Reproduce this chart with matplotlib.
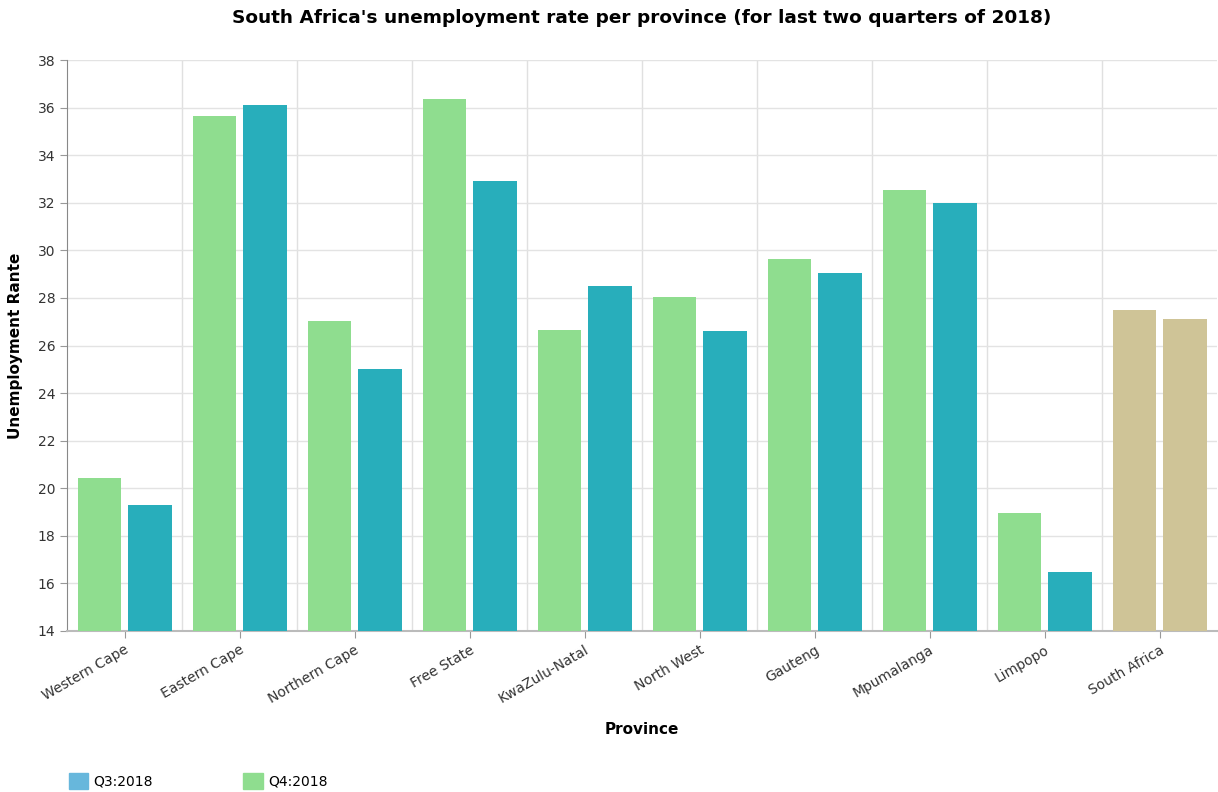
import numpy as np
import matplotlib
matplotlib.use('Agg')
import matplotlib.pyplot as plt
from matplotlib.patches import Patch

# Data
provinces = ['Western Cape', 'Eastern Cape', 'Northern Cape', 'Free State', 'KwaZulu-Natal',
             'North West', 'Gauteng', 'Mpumalanga', 'Limpopo', 'South Africa']
first_bar = [20.45, 35.65, 27.05, 36.35, 26.65, 28.05, 29.65, 32.55, 18.95, 27.5]
second_bar = [19.3, 36.1, 25.0, 32.9, 28.5, 26.6, 29.05, 32.0, 16.5, 27.1]
legend_labels = ['Q3:2018', 'Q4:2018']

green = '#8fdd8f'
teal = '#28aebb'
tan = '#cfc497'
blue = '#67b7dc'

fig = plt.figure(figsize=(12.18, 7.92), dpi=100)
ax = fig.add_axes([67 / 1218, 1 - 631 / 792, 1150 / 1218, 571 / 792])

x = np.arange(len(provinces))
w = 0.375
c1 = [tan if p == 'South Africa' else green for p in provinces]
c2 = [tan if p == 'South Africa' else teal for p in provinces]
ax.bar(x - 0.218, np.array(first_bar) - 14, w, bottom=14, color=c1, zorder=3)
ax.bar(x + 0.222, np.array(second_bar) - 14, w, bottom=14, color=c2, zorder=3)

ax.set_xlim(-0.5, len(provinces) - 0.5)
ax.set_ylim(14, 38)
ax.set_yticks(np.arange(14, 39, 2))
ax.set_xticks(x)
ax.set_xticklabels(provinces, rotation=30, ha='right', rotation_mode='anchor',
                   fontsize=10, color='#333333')
ax.tick_params(axis='y', labelsize=10, labelcolor='#333333', color='#999999', length=5)
ax.tick_params(axis='x', color='#999999', length=5)

# grid: horizontal at ticks, vertical at category boundaries
ax.grid(axis='y', color='#e3e3e3', lw=1, zorder=0)
for b in np.arange(0.5, len(provinces) - 0.5, 1):
    ax.axvline(b, color='#e0e0e0', lw=1, zorder=0)

for s in ['top', 'right']:
    ax.spines[s].set_visible(False)
ax.spines['left'].set_color('#888888')
ax.spines['bottom'].set_color('#bbbbbb')
ax.spines['bottom'].set_linewidth(1.5)

ax.set_xlabel('Province', fontsize=11, fontweight='bold', labelpad=12)
ax.set_ylabel('Unemployment Rante', fontsize=11, fontweight='bold', va='center')
ax.yaxis.set_label_coords(-0.045, 0.5)
fig.text(642 / 1218, 1 - 18 / 792,
         "South Africa's unemployment rate per province (for last two quarters of 2018)",
         fontsize=13.3, fontweight='bold', ha='center', va='center')

handles = [Patch(color=blue), Patch(color=green)]
fig.legend(handles, legend_labels, loc='lower left', bbox_to_anchor=(0.046, -0.012),
           ncol=2, frameon=False, fontsize=10, handlelength=1.4, handleheight=1.4,
           columnspacing=6.5, handletextpad=0.4)

fig.savefig('out.png', dpi=100)
